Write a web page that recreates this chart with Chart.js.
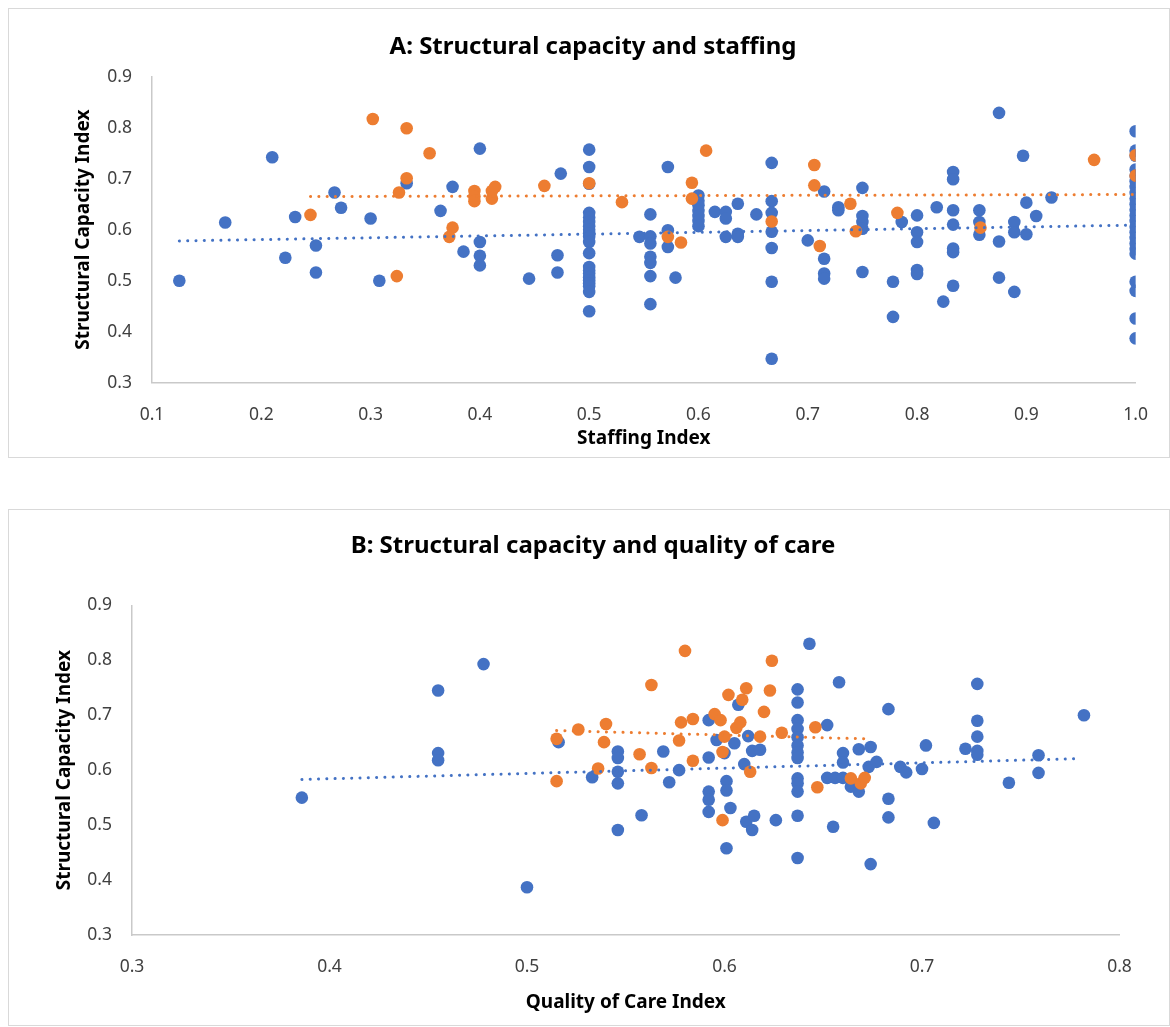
<!DOCTYPE html>
<html>
<head>
<meta charset="utf-8">
<title>Structural capacity</title>
<script src="https://cdn.jsdelivr.net/npm/chart.js@4.4.1/dist/chart.umd.min.js"></script>
<style>
  body { margin: 0; background: #fff; }
  .frame { position: absolute; border: 1.5px solid #d9d9d9; box-sizing: border-box; }
  canvas { position: absolute; left: 0; }
  .chart-title {
    position: absolute; left: 0; width: 1186px; text-align: center;
    font: bold 24px 'Noto Sans', sans-serif; line-height: 30px; color: #000;
  }
</style>
</head>
<body>
<div class="frame" style="left:8px;top:8px;width:1162px;height:450px"></div>
<div class="frame" style="left:8px;top:509px;width:1162px;height:517px"></div>
<canvas id="chart-a" width="1170" height="460" style="top:0"></canvas>
<canvas id="chart-b" width="1170" height="527" style="top:500px"></canvas>
<div class="chart-title" style="top:30px">A: Structural capacity and staffing</div>
<div class="chart-title" style="top:529px">B: Structural capacity and quality of care</div>
<script>
// Panel A: staffing index vs structural capacity index
const staffTicks = ['0.1', '0.2', '0.3', '0.4', '0.5', '0.6', '0.7', '0.8', '0.9', '1.0'];
const capTicks = ['0.3', '0.4', '0.5', '0.6', '0.7', '0.8', '0.9'];

const aBlueX = [0.125, 0.167, 0.210, 0.222, 0.231, 0.250, 0.250, 0.267, 0.273, 0.300, 0.308, 0.333, 0.364, 0.375, 0.385,
  0.400, 0.400, 0.400, 0.400, 0.445, 0.471, 0.471, 0.474,
  0.5, 0.5, 0.5, 0.5, 0.5, 0.5, 0.5, 0.5, 0.5, 0.5, 0.5, 0.5, 0.5, 0.5, 0.5, 0.5, 0.5, 0.5, 0.5, 0.5, 0.5,
  0.546, 0.556, 0.556, 0.556, 0.556, 0.556, 0.556, 0.556, 0.572, 0.572, 0.572, 0.579,
  0.6, 0.6, 0.6, 0.6, 0.6, 0.6, 0.6, 0.615, 0.625, 0.625, 0.625, 0.636, 0.636, 0.636, 0.653,
  0.667, 0.667, 0.667, 0.667, 0.667, 0.667, 0.667, 0.700, 0.715, 0.715, 0.715, 0.715, 0.728, 0.728,
  0.750, 0.750, 0.750, 0.750, 0.750, 0.778, 0.778, 0.786, 0.800, 0.800, 0.800, 0.800, 0.800, 0.818, 0.824,
  0.833, 0.833, 0.833, 0.833, 0.833, 0.833, 0.833, 0.857, 0.857, 0.857, 0.875, 0.875, 0.875,
  0.889, 0.889, 0.889, 0.897, 0.900, 0.900, 0.909, 0.923,
  1.0, 1.0, 1.0, 1.0, 1.0, 1.0, 1.0, 1.0, 1.0, 1.0, 1.0, 1.0, 1.0, 1.0, 1.0, 1.0, 1.0, 1.0, 1.0, 1.0, 1.0, 1.0, 1.0];
const aBlueY = [0.500, 0.614, 0.742, 0.545, 0.625, 0.569, 0.516, 0.673, 0.643, 0.622, 0.500, 0.691, 0.637, 0.684, 0.557,
  0.759, 0.576, 0.549, 0.530, 0.504, 0.550, 0.516, 0.710,
  0.757, 0.723, 0.690, 0.633, 0.624, 0.615, 0.607, 0.600, 0.593, 0.586, 0.576, 0.554, 0.527, 0.520, 0.514, 0.507, 0.501, 0.495, 0.489, 0.478, 0.440,
  0.586, 0.630, 0.587, 0.573, 0.547, 0.535, 0.509, 0.454, 0.723, 0.599, 0.566, 0.506,
  0.667, 0.657, 0.648, 0.637, 0.627, 0.617, 0.607, 0.635, 0.635, 0.622, 0.586, 0.651, 0.592, 0.586, 0.630,
  0.731, 0.656, 0.633, 0.596, 0.564, 0.498, 0.347, 0.579, 0.675, 0.543, 0.514, 0.504, 0.644, 0.638,
  0.682, 0.627, 0.615, 0.602, 0.517, 0.498, 0.429, 0.615, 0.628, 0.595, 0.576, 0.521, 0.513, 0.644, 0.459,
  0.713, 0.699, 0.638, 0.610, 0.563, 0.556, 0.490, 0.638, 0.615, 0.590, 0.829, 0.577, 0.506,
  0.615, 0.595, 0.478, 0.745, 0.653, 0.591, 0.627, 0.663,
  0.793, 0.755, 0.745, 0.718, 0.706, 0.695, 0.684, 0.672, 0.661, 0.650, 0.639, 0.628, 0.617, 0.606, 0.595, 0.584, 0.573, 0.562, 0.553, 0.498, 0.480, 0.426, 0.387];

const aOrangeX = [0.245, 0.302, 0.333, 0.354, 0.333, 0.326, 0.324, 0.375, 0.372, 0.395, 0.395, 0.395, 0.411, 0.411, 0.414,
  0.459, 0.500, 0.530, 0.572, 0.584, 0.594, 0.594, 0.607, 0.667, 0.706, 0.706, 0.711, 0.739, 0.744, 0.782,
  0.858, 0.962, 1.0, 1.0];
const aOrangeY = [0.629, 0.817, 0.799, 0.750, 0.701, 0.673, 0.509, 0.604, 0.586, 0.676, 0.665, 0.656, 0.661, 0.676, 0.684,
  0.686, 0.691, 0.654, 0.586, 0.575, 0.692, 0.661, 0.755, 0.616, 0.727, 0.687, 0.568, 0.651, 0.597, 0.633,
  0.604, 0.737, 0.746, 0.706];

// trend line end points
const aBlueTrendX = [0.125, 1.0];
const aBlueTrendY = [0.578, 0.609];
const aOrangeTrendX = [0.245, 1.0];
const aOrangeTrendY = [0.665, 0.669];

// Panel B: quality of care index vs structural capacity index
const careTicks = ['0.3', '0.4', '0.5', '0.6', '0.7', '0.8'];

const bBlueX = [0.386, 0.455, 0.455, 0.455, 0.478, 0.500, 0.516, 0.533, 0.546, 0.546, 0.546, 0.546, 0.546, 0.558, 0.569,
  0.572, 0.577, 0.592, 0.592, 0.592, 0.592, 0.592, 0.596, 0.600, 0.601, 0.601, 0.601, 0.603, 0.605, 0.607,
  0.610, 0.611, 0.612, 0.614, 0.614, 0.615, 0.618, 0.626,
  0.637, 0.637, 0.637, 0.637, 0.637, 0.637, 0.637, 0.637, 0.637, 0.637, 0.637, 0.637, 0.637,
  0.643, 0.652, 0.652, 0.655, 0.656, 0.658, 0.660, 0.660, 0.660, 0.664, 0.668, 0.668, 0.673, 0.674, 0.674,
  0.677, 0.683, 0.683, 0.683, 0.689, 0.692, 0.700, 0.702, 0.706, 0.722, 0.728, 0.728, 0.728, 0.728, 0.728,
  0.744, 0.759, 0.759, 0.782];
const bBlueY = [0.550, 0.745, 0.631, 0.618, 0.793, 0.387, 0.651, 0.587, 0.634, 0.622, 0.597, 0.576, 0.491, 0.518, 0.634,
  0.578, 0.600, 0.691, 0.623, 0.561, 0.546, 0.524, 0.655, 0.631, 0.580, 0.563, 0.458, 0.531, 0.649, 0.719,
  0.611, 0.506, 0.662, 0.635, 0.491, 0.517, 0.637, 0.509,
  0.747, 0.723, 0.691, 0.675, 0.660, 0.645, 0.632, 0.622, 0.585, 0.576, 0.561, 0.517, 0.440,
  0.830, 0.682, 0.586, 0.497, 0.586, 0.760, 0.631, 0.614, 0.586, 0.570, 0.638, 0.561, 0.606, 0.642, 0.429,
  0.615, 0.711, 0.548, 0.514, 0.606, 0.596, 0.602, 0.645, 0.504, 0.639, 0.757, 0.690, 0.661, 0.635, 0.628,
  0.577, 0.627, 0.595, 0.700];

const bOrangeX = [0.515, 0.515, 0.526, 0.536, 0.540, 0.539, 0.557, 0.563, 0.563, 0.577, 0.578, 0.580, 0.584, 0.584,
  0.595, 0.598, 0.599, 0.599, 0.600, 0.602, 0.606, 0.608, 0.609, 0.611, 0.613, 0.618, 0.620, 0.623, 0.624,
  0.629, 0.646, 0.647, 0.664, 0.669, 0.671];
const bOrangeY = [0.657, 0.580, 0.674, 0.603, 0.684, 0.651, 0.629, 0.755, 0.604, 0.654, 0.687, 0.817, 0.693, 0.617,
  0.702, 0.691, 0.633, 0.509, 0.661, 0.737, 0.677, 0.687, 0.728, 0.749, 0.597, 0.661, 0.706, 0.745, 0.799,
  0.668, 0.678, 0.569, 0.585, 0.576, 0.586];

const bBlueTrendX = [0.386, 0.780];
const bBlueTrendY = [0.583, 0.621];
const bOrangeTrendX = [0.515, 0.671];
const bOrangeTrendY = [0.672, 0.657];

const BLUE = '#4472C4';
const ORANGE = '#ED7D31';
const FONT = "'Noto Sans', sans-serif";
const AXIS_LINE = '#c9c9c9';

function pairs(xs, ys) {
  return xs.map((x, i) => ({ x: x, y: ys[i] }));
}

function pointSet(xs, ys, color, order) {
  return {
    data: pairs(xs, ys),
    backgroundColor: color,
    borderWidth: 0,
    pointRadius: 6.3,
    pointHoverRadius: 6.3,
    order: order
  };
}

function trendSet(xs, ys, color) {
  return {
    data: pairs(xs, ys),
    showLine: true,
    borderColor: color,
    borderWidth: 3,
    borderDash: [0.1, 8.2],
    borderCapStyle: 'round',
    pointRadius: 0,
    pointHoverRadius: 0,
    order: 0
  };
}

function axis(ticks, cfg) {
  return {
    type: 'linear',
    min: parseFloat(ticks[0]),
    max: parseFloat(ticks[ticks.length - 1]),
    afterBuildTicks: function(scale) {
      scale.ticks = ticks.map(t => ({ value: parseFloat(t) }));
    },
    afterFit: cfg.fit,
    ticks: {
      padding: cfg.tickPad,
      color: '#404040',
      font: { family: FONT, size: 17.5 },
      callback: function(value, index) { return ticks[index]; }
    },
    grid: { display: true, drawOnChartArea: false, drawTicks: false },
    border: { display: true, color: AXIS_LINE, width: 1.5 },
    title: {
      display: true,
      text: cfg.title,
      color: '#000',
      font: { family: FONT, size: 19, weight: 'bold', lineHeight: 1.2 },
      padding: cfg.titlePad
    }
  };
}

function createPanel(id, cfg) {
  const ctx = document.getElementById(id);
  if (!ctx) return;

  new Chart(ctx, {
    type: 'scatter',
    data: {
      datasets: [
        trendSet(cfg.orangeTrend[0], cfg.orangeTrend[1], ORANGE),
        trendSet(cfg.blueTrend[0], cfg.blueTrend[1], BLUE),
        pointSet(cfg.orange[0], cfg.orange[1], ORANGE, 1),
        pointSet(cfg.blue[0], cfg.blue[1], BLUE, 2)
      ]
    },
    options: {
      responsive: false,
      animation: false,
      layout: { padding: { left: 0, top: cfg.topPad, right: cfg.rightPad, bottom: 0 } },
      plugins: {
        legend: { display: false },
        tooltip: { enabled: false },
        title: { display: false }
      },
      scales: {
        x: axis(cfg.xTicks, {
          title: cfg.xTitle,
          tickPad: 22,
          titlePad: { top: 0, bottom: cfg.xTitleBottom },
          fit: function(scale) { scale.height = cfg.xHeight; }
        }),
        y: axis(capTicks, {
          title: 'Structural Capacity Index',
          tickPad: 20,
          titlePad: { top: cfg.yTitleTop, bottom: 0 },
          fit: function(scale) { scale.width = cfg.yWidth; }
        })
      }
    }
  });
}

createPanel('chart-a', {
  xTitle: 'Staffing Index',
  xTicks: staffTicks,
  blue: [aBlueX, aBlueY],
  orange: [aOrangeX, aOrangeY],
  blueTrend: [aBlueTrendX, aBlueTrendY],
  orangeTrend: [aOrangeTrendX, aOrangeTrendY],
  topPad: 76.7,
  yWidth: 152,
  yTitleTop: 72.6,
  xHeight: 77.3,
  xTitleBottom: 9.6,
  rightPad: 33.3
});

createPanel('chart-b', {
  xTitle: 'Quality of Care Index',
  xTicks: careTicks,
  blue: [bBlueX, bBlueY],
  orange: [bOrangeX, bOrangeY],
  blueTrend: [bBlueTrendX, bBlueTrendY],
  orangeTrend: [bOrangeTrendX, bOrangeTrendY],
  topPad: 105.3,
  yWidth: 132,
  yTitleTop: 53.6,
  xHeight: 92,
  xTitleBottom: 12.6,
  rightPad: 50.5
});
</script>
</body>
</html>
